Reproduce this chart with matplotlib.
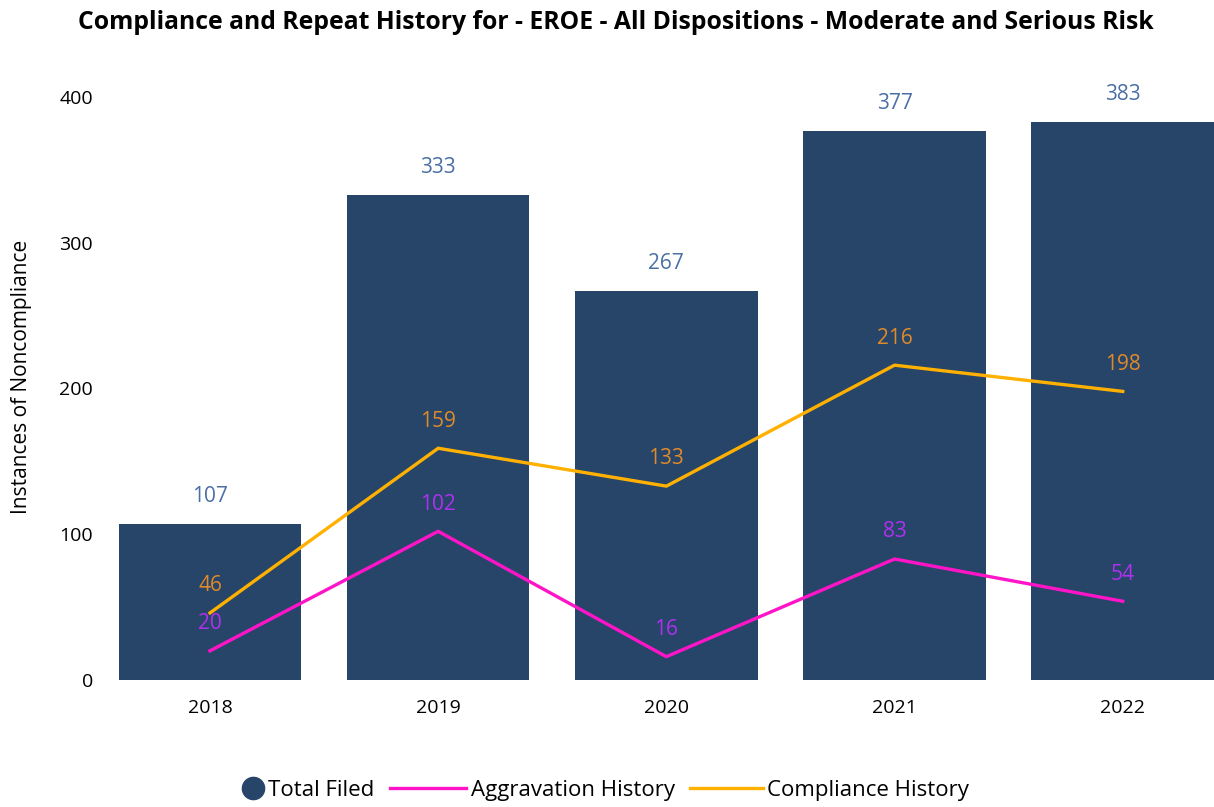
import numpy as np
import matplotlib.pyplot as plt
from matplotlib.lines import Line2D

plt.rcParams['font.family'] = ['Open Sans', 'DejaVu Sans']

years = ['2018', '2019', '2020', '2021', '2022']
total_filed = [107, 333, 267, 377, 383]
aggravation = [20, 102, 16, 83, 54]
compliance = [46, 159, 133, 216, 198]

bar_color = '#264569'
pink = '#FF14C8'
orange = '#FFB000'

fig = plt.figure(figsize=(12.14, 8.07), dpi=100)
ax = fig.add_axes([0.079, 0.1574, 0.921, 0.7224])

x = np.arange(len(years))
ax.bar(x, total_filed, width=0.8, color=bar_color)
ax.plot(x, compliance, color=orange, lw=2.4)
ax.plot(x, aggravation, color=pink, lw=2.4)

for xi, v in zip(x, total_filed):
    ax.annotate(str(v), (xi, v), xytext=(0, 12), textcoords='offset points',
                ha='center', va='bottom', fontsize=15, color='#4A6FA5', clip_on=False)
for xi, v in zip(x, compliance):
    ax.annotate(str(v), (xi, v), xytext=(0, 12), textcoords='offset points',
                ha='center', va='bottom', fontsize=15, color='#E08A2A', fontweight='medium')
for xi, v in zip(x, aggravation):
    ax.annotate(str(v), (xi, v), xytext=(0, 12), textcoords='offset points',
                ha='center', va='bottom', fontsize=15, color='#B030F0', fontweight='medium')

ax.set_xlim(-0.5, 4.4)
ax.set_ylim(0, 400)
ax.set_xticks(x)
ax.set_xticklabels(years)
ax.set_yticks([0, 100, 200, 300, 400])
ax.tick_params(length=0, labelsize=14)
ax.tick_params(axis='x', pad=14)
ax.tick_params(axis='y', pad=2)
for s in ax.spines.values():
    s.set_visible(False)
ax.set_ylabel('Instances of Noncompliance', fontsize=15)
ax.yaxis.set_label_coords(-0.057, 0.52)

fig.suptitle('Compliance and Repeat History for - EROE - All Dispositions - Moderate and Serious Risk',
             x=0.507, y=0.988, fontsize=17.8, fontweight='bold')

leg_kw = dict(frameon=False, fontsize=16, handletextpad=0.2, borderpad=0, borderaxespad=0)
fig.legend([Line2D([], [], marker='o', ls='none', color=bar_color, markersize=16)],
           ['Total Filed'], loc='center left', bbox_to_anchor=(0.199, 0.021),
           handlelength=1.0, **leg_kw)
fig.legend([Line2D([], [], color=pink, lw=2.4)], ['Aggravation History'],
           loc='center left', bbox_to_anchor=(0.321, 0.021), handlelength=3.45, **leg_kw)
fig.legend([Line2D([], [], color=orange, lw=2.4)], ['Compliance History'],
           loc='center left', bbox_to_anchor=(0.568, 0.021), handlelength=3.3, **leg_kw)

fig.savefig('out.png', dpi=100)
